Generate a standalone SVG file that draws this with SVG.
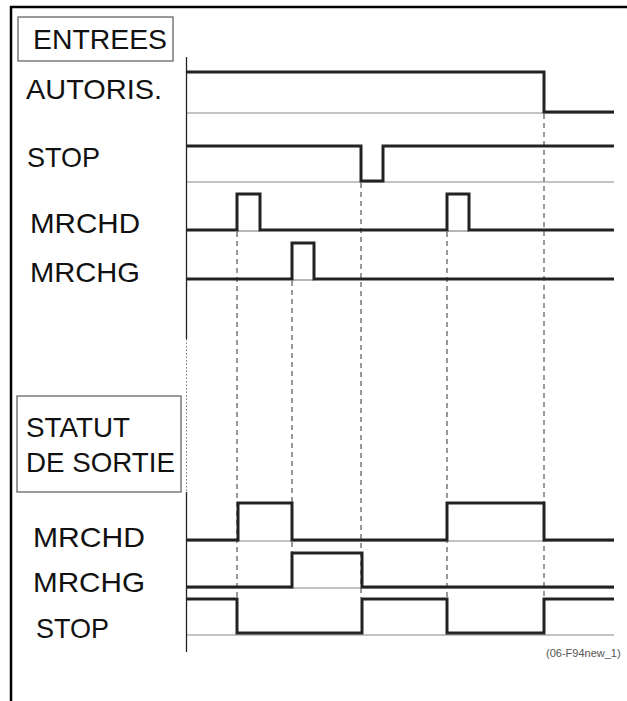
<svg xmlns="http://www.w3.org/2000/svg" width="627" height="701" viewBox="0 0 627 701">
<style>
text{font-family:"Liberation Sans",Arial,sans-serif;fill:#111}
.lbl{font-size:28px}
.sig{fill:none;stroke:#222;stroke-width:3;stroke-linejoin:miter}
.base{stroke:#888;stroke-width:1.2;fill:none}
.dash{stroke:#333;stroke-width:1;stroke-dasharray:5,4;fill:none}
.box{fill:none;stroke:#666;stroke-width:1.3}
</style>
<rect width="627" height="701" fill="#fff"/>
<g id="frame">
<line x1="10" y1="7" x2="627" y2="7" stroke="#000" stroke-width="2.5"/>
<line x1="11" y1="6" x2="11" y2="701" stroke="#000" stroke-width="2.5"/>
</g>
<g id="axis">
<line x1="186.5" y1="57" x2="186.5" y2="339" stroke="#222" stroke-width="1.3"/>
<line x1="186.5" y1="339" x2="186.5" y2="492" stroke="#777" stroke-width="1" stroke-dasharray="1.5,2"/>
<line x1="186.5" y1="492" x2="186.5" y2="652" stroke="#222" stroke-width="1.3"/>
</g>
<g id="connectors">
<line class="dash" x1="237" y1="232" x2="237" y2="598"/>
<line class="dash" x1="292" y1="281" x2="292" y2="587"/>
<line class="dash" x1="361" y1="183" x2="361" y2="598"/>
<line class="dash" x1="447" y1="232" x2="447" y2="598"/>
<line class="dash" x1="544" y1="114" x2="544" y2="598"/>
</g>
<g id="entrees">
<rect class="box" x="18" y="17" width="155" height="44"/>
<text class="lbl" x="33" y="49" textLength="134" lengthAdjust="spacingAndGlyphs">ENTREES</text>
</g>
<g id="in-autoris">
<text class="lbl" x="26" y="99" textLength="136" lengthAdjust="spacingAndGlyphs">AUTORIS.</text>
<line class="base" x1="187" y1="113" x2="614" y2="113"/>
<polyline class="sig" points="187,72 544,72 544,112 614,112"/>
</g>
<g id="in-stop">
<text class="lbl" x="27" y="167" textLength="73" lengthAdjust="spacingAndGlyphs">STOP</text>
<line class="base" x1="187" y1="182" x2="614" y2="182"/>
<polyline class="sig" points="187,146 361,146 361,181 383,181 383,146 614,146"/>
</g>
<g id="in-mrchd">
<text class="lbl" x="30" y="233" textLength="110" lengthAdjust="spacingAndGlyphs">MRCHD</text>
<line class="base" x1="237" y1="231" x2="260" y2="231"/>
<line class="base" x1="447" y1="231" x2="469" y2="231"/>
<polyline class="sig" points="187,230 237,230 237,194 260,194 260,230 447,230 447,194 469,194 469,230 614,230"/>
</g>
<g id="in-mrchg">
<text class="lbl" x="30" y="282" textLength="110" lengthAdjust="spacingAndGlyphs">MRCHG</text>
<line class="base" x1="292" y1="280" x2="314" y2="280"/>
<polyline class="sig" points="187,279 292,279 292,243 314,243 314,279 614,279"/>
</g>
<g id="statut">
<rect class="box" x="17" y="396" width="164" height="96"/>
<text class="lbl" x="26" y="437" textLength="104" lengthAdjust="spacingAndGlyphs">STATUT</text>
<text class="lbl" x="26" y="472" textLength="149" lengthAdjust="spacingAndGlyphs">DE SORTIE</text>
</g>
<g id="out-mrchd">
<text class="lbl" x="33" y="547" textLength="112" lengthAdjust="spacingAndGlyphs">MRCHD</text>
<line class="base" x1="187" y1="541" x2="614" y2="541"/>
<polyline class="sig" points="187,540 238,540 238,503 292,503 292,540 447,540 447,503 544,503 544,540 614,540"/>
</g>
<g id="out-mrchg">
<text class="lbl" x="33" y="592" textLength="112" lengthAdjust="spacingAndGlyphs">MRCHG</text>
<line class="base" x1="187" y1="588" x2="614" y2="588"/>
<polyline class="sig" points="187,587 292,587 292,553 362,553 362,587 614,587"/>
</g>
<g id="out-stop">
<text class="lbl" x="36" y="638" textLength="73" lengthAdjust="spacingAndGlyphs">STOP</text>
<line class="base" x1="187" y1="635" x2="614" y2="635"/>
<polyline class="sig" points="187,599 237,599 237,633 362,633 362,599 447,599 447,633 544,633 544,599 614,599"/>
</g>
<text x="546" y="657" font-size="11" style="fill:#555">(06-F94new_1)</text>
</svg>
